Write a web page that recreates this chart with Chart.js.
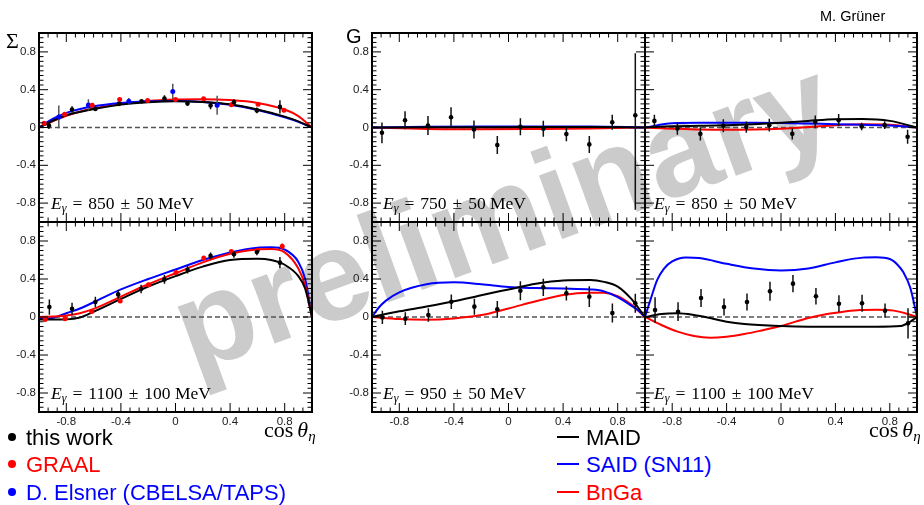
<!DOCTYPE html>
<html>
<head>
<meta charset="utf-8">
<script src="https://cdn.jsdelivr.net/npm/chart.js@4.4.0/dist/chart.umd.min.js"></script>
<style>
  body { margin: 0; background: #fff; }
  #page { position: relative; width: 924px; height: 505px; overflow: hidden; font-family: "Liberation Sans", Arial, sans-serif; }
  #wm { position: absolute; left: 502px; top: 214px; transform: translate(-50%, -50%) rotate(-20deg);
        font: bold 128px "Liberation Sans", Arial, sans-serif; color: #cbcbcb; white-space: nowrap; line-height: 1; }
  canvas { position: absolute; }
  .t { position: absolute; white-space: nowrap; }
  .lab { font-family: "Liberation Serif", serif; font-size: 17.5px; line-height: 20px; color: #000; }
  .lab i { font-style: italic; }
  .lab sub { font-size: 12px; vertical-align: -3px; line-height: 0; }
  .sp { display: inline-block; width: 6px; }
  .leg { font-size: 22px; line-height: 24px; }
  .bul { display: inline-block; width: 8px; height: 8px; border-radius: 50%; vertical-align: 4px; margin-left: 2px; margin-right: 10px; }
  .dash { display: inline-block; width: 22px; height: 2px; vertical-align: 7px; margin-right: 7px; }
  .ax { font-family: "Liberation Serif", serif; font-size: 22px; }
</style>
</head>
<body>
<div id="page">
  <div id="wm">preliminary</div>

  <canvas id="s850"></canvas>
  <canvas id="s1100"></canvas>
  <canvas id="g750"></canvas>
  <canvas id="g850"></canvas>
  <canvas id="g950"></canvas>
  <canvas id="g1100"></canvas>

  <div class="t" style="left:820px;top:8px;font-size:14.5px;">M. Grüner</div>
  <div class="t" style="left:6px;top:28px;font-family:'Liberation Serif',serif;font-size:22px;">Σ</div>
  <div class="t" style="left:346px;top:25px;font-size:20px;">G</div>

  <div class="t lab" style="left:51px;top:193px;"><i>E</i><sub><i>γ</i></sub><span class="sp"></span>=<span class="sp"></span>850<span class="sp"></span>±<span class="sp"></span>50 MeV</div>
  <div class="t lab" style="left:51px;top:383px;"><i>E</i><sub><i>γ</i></sub><span class="sp"></span>=<span class="sp"></span>1100<span class="sp"></span>±<span class="sp"></span>100 MeV</div>
  <div class="t lab" style="left:383px;top:193px;"><i>E</i><sub><i>γ</i></sub><span class="sp"></span>=<span class="sp"></span>750<span class="sp"></span>±<span class="sp"></span>50 MeV</div>
  <div class="t lab" style="left:654px;top:193px;"><i>E</i><sub><i>γ</i></sub><span class="sp"></span>=<span class="sp"></span>850<span class="sp"></span>±<span class="sp"></span>50 MeV</div>
  <div class="t lab" style="left:383px;top:383px;"><i>E</i><sub><i>γ</i></sub><span class="sp"></span>=<span class="sp"></span>950<span class="sp"></span>±<span class="sp"></span>50 MeV</div>
  <div class="t lab" style="left:654px;top:383px;"><i>E</i><sub><i>γ</i></sub><span class="sp"></span>=<span class="sp"></span>1100<span class="sp"></span>±<span class="sp"></span>100 MeV</div>

  <div class="t ax" style="left:264px;top:417px;">cos<span style="display:inline-block;width:4px"></span><i>θ</i><sub style="font-size:15px;vertical-align:-4px;line-height:0"><i>η</i></sub></div>
  <div class="t ax" style="left:869px;top:417px;">cos<span style="display:inline-block;width:4px"></span><i>θ</i><sub style="font-size:15px;vertical-align:-4px;line-height:0"><i>η</i></sub></div>

  <div class="t leg" style="left:6px;top:426px;color:#000;"><span class="bul" style="background:#000"></span>this work</div>
  <div class="t leg" style="left:6px;top:453px;color:#ff0000;"><span class="bul" style="background:#ff0000"></span>GRAAL</div>
  <div class="t leg" style="left:6px;top:481px;color:#0000ff;"><span class="bul" style="background:#0000ff"></span>D. Elsner (CBELSA/TAPS)</div>
  <div class="t leg" style="left:557px;top:426px;color:#000;"><span class="dash" style="background:#000"></span>MAID</div>
  <div class="t leg" style="left:557px;top:453px;color:#0000ff;"><span class="dash" style="background:#0000ff"></span>SAID (SN11)</div>
  <div class="t leg" style="left:557px;top:481px;color:#ff0000;"><span class="dash" style="background:#ff0000"></span>BnGa</div>
</div>

<script>
// axis ticks
const tickVals = [-0.8, -0.4, 0, 0.4, 0.8];
const tickText = ["-0.8", "-0.4", "0", "0.4", "0.8"];

// ---- Sigma, E = 850 MeV ----
const s850X = [-0.927, -0.758, -0.587, -0.415, -0.249, -0.081, 0.088, 0.257, 0.428, 0.596, 0.765];
const s850Y = [0.02, 0.19, 0.196, 0.25, 0.277, 0.307, 0.253, 0.233, 0.268, 0.181, 0.218];
const s850E = [0.035, 0.035, 0.02, 0.02, 0.02, 0.035, 0.02, 0.04, 0.03, 0.03, 0.07];
const s850GraalX = [-0.962, -0.812, -0.61, -0.409, -0.204, 0.0, 0.206, 0.409, 0.605, 0.795];
const s850GraalY = [0.045, 0.14, 0.235, 0.295, 0.286, 0.295, 0.305, 0.242, 0.245, 0.182];
const s850GraalE = [0.012, 0.012, 0.012, 0.012, 0.012, 0.012, 0.012, 0.012, 0.012, 0.015];
const s850ElsnerX = [-0.855, -0.638, -0.342, -0.02, 0.305];
const s850ElsnerY = [0.112, 0.239, 0.277, 0.382, 0.235];
const s850ElsnerE = [0.12, 0.06, 0.035, 0.08, 0.1];
const s850CurveX = [-1, -0.9, -0.8, -0.6, -0.4, -0.2, 0, 0.2, 0.4, 0.6, 0.8, 0.9, 1];
const s850Maid = [0, 0.07, 0.13, 0.195, 0.242, 0.268, 0.277, 0.27, 0.245, 0.19, 0.115, 0.065, 0];
const s850Said = [0, 0.09, 0.155, 0.225, 0.26, 0.277, 0.28, 0.27, 0.24, 0.185, 0.108, 0.06, 0];
const s850Bnga = [0, 0.065, 0.125, 0.2, 0.25, 0.28, 0.295, 0.3, 0.29, 0.26, 0.19, 0.12, 0];

// ---- Sigma, E = 1100 MeV ----
const s1100X = [-0.924, -0.758, -0.587, -0.42, -0.252, -0.081, 0.088, 0.257, 0.428, 0.596, 0.765];
const s1100Y = [0.105, 0.086, 0.157, 0.238, 0.295, 0.396, 0.498, 0.643, 0.66, 0.684, 0.572];
const s1100E = [0.08, 0.065, 0.055, 0.045, 0.045, 0.045, 0.04, 0.035, 0.035, 0.035, 0.06];
const s1100GraalX = [-0.955, -0.81, -0.614, -0.405, -0.198, 0.004, 0.207, 0.409, 0.601, 0.782];
const s1100GraalY = [-0.026, -0.019, 0.057, 0.169, 0.34, 0.468, 0.622, 0.69, 0.702, 0.744];
const s1100GraalE = [0.015, 0.012, 0.015, 0.02, 0.02, 0.02, 0.015, 0.015, 0.02, 0.03];
const s1100CurveX = [-1, -0.9, -0.8, -0.7, -0.6, -0.4, -0.2, 0, 0.2, 0.4, 0.6, 0.7, 0.8, 0.9, 0.95, 1];
const s1100Maid = [-0.025, -0.027, -0.025, -0.005, 0.055, 0.19, 0.32, 0.43, 0.53, 0.6, 0.612, 0.6, 0.55, 0.43, 0.3, 0];
const s1100Said = [-0.02, -0.01, 0.04, 0.09, 0.155, 0.29, 0.4, 0.5, 0.6, 0.68, 0.73, 0.735, 0.71, 0.58, 0.4, 0];
const s1100Bnga = [0.0, 0.005, 0.015, 0.04, 0.085, 0.215, 0.345, 0.46, 0.575, 0.665, 0.71, 0.715, 0.68, 0.51, 0.33, 0];

// ---- G, E = 750 MeV ----
const g750X = [-0.927, -0.758, -0.59, -0.421, -0.253, -0.082, 0.087, 0.255, 0.424, 0.592, 0.76, 0.929];
const g750Y = [-0.056, 0.077, 0.021, 0.109, -0.021, -0.186, 0.007, -0.014, -0.07, -0.179, 0.056, 0.13];
const g750ErrDown = [0.11, 0.095, 0.1, 0.105, 0.095, 0.095, 0.09, 0.085, 0.075, 0.09, 0.08, 1.0];
const g750ErrUp = [0.11, 0.095, 0.1, 0.105, 0.095, 0.095, 0.09, 0.085, 0.075, 0.09, 0.08, 0.656];
const g750CurveX = [-1, -0.6, -0.2, 0.2, 0.6, 1];
const g750Maid = [0, 0.002, 0.003, 0.004, 0.004, 0];
const g750Said = [0, 0.008, 0.01, 0.01, 0.01, 0];
const g750Bnga = [0, -0.015, -0.018, -0.015, -0.01, 0];

// ---- G, E = 850 MeV ----
const g850X = [-0.931, -0.762, -0.593, -0.424, -0.255, -0.086, 0.083, 0.252, 0.424, 0.593, 0.762, 0.931];
const g850Y = [0.07, -0.011, -0.067, 0.018, 0.004, 0.025, -0.067, 0.06, 0.077, 0.011, 0.025, -0.098];
const g850E = [0.065, 0.065, 0.07, 0.068, 0.06, 0.067, 0.06, 0.067, 0.065, 0.04, 0.04, 0.075];
const g850CurveX = [-1, -0.8, -0.6, -0.4, -0.2, 0, 0.2, 0.4, 0.6, 0.8, 1];
const g850Maid = [0, 0.012, 0.018, 0.025, 0.035, 0.05, 0.07, 0.088, 0.09, 0.07, 0];
const g850Said = [0, 0.045, 0.05, 0.05, 0.05, 0.048, 0.042, 0.035, 0.03, 0.02, 0];
const g850Bnga = [0, -0.012, -0.022, -0.025, -0.022, -0.012, 0.005, 0.025, 0.035, 0.03, 0];

// ---- G, E = 950 MeV ----
const g950X = [-0.924, -0.756, -0.587, -0.419, -0.25, -0.082, 0.087, 0.255, 0.424, 0.592, 0.761, 0.929];
const g950Y = [-0.004, -0.018, 0.021, 0.161, 0.109, 0.081, 0.277, 0.312, 0.249, 0.214, 0.042, 0.144];
const g950E = [0.07, 0.067, 0.07, 0.077, 0.084, 0.088, 0.1, 0.09, 0.075, 0.11, 0.1, 0.1];
const g950MaidX = [-1, -0.8, -0.6, -0.4, -0.2, 0, 0.2, 0.4, 0.6, 0.7, 0.8, 0.9, 1];
const g950Maid = [0, 0.06, 0.11, 0.165, 0.23, 0.29, 0.35, 0.385, 0.39, 0.37, 0.32, 0.19, 0];
const g950SaidX = [-1, -0.95, -0.9, -0.8, -0.6, -0.4, -0.2, 0, 0.2, 0.4, 0.6, 0.7, 0.8, 0.9, 0.95, 1];
const g950Said = [0, 0.1, 0.17, 0.26, 0.345, 0.365, 0.345, 0.315, 0.305, 0.3, 0.29, 0.27, 0.21, 0.12, 0.07, 0];
const g950BngaX = [-1, -0.8, -0.6, -0.4, -0.2, 0, 0.2, 0.4, 0.6, 0.7, 0.8, 0.9, 1];
const g950Bnga = [0, -0.022, -0.028, -0.015, 0.02, 0.09, 0.165, 0.232, 0.256, 0.255, 0.22, 0.13, 0];

// ---- G, E = 1100 MeV ----
const g1100X = [-0.926, -0.757, -0.588, -0.419, -0.25, -0.081, 0.088, 0.257, 0.426, 0.596, 0.765, 0.934];
const g1100Y = [0.074, 0.056, 0.2, 0.105, 0.158, 0.27, 0.351, 0.218, 0.14, 0.144, 0.067, -0.067];
const g1100E = [0.135, 0.098, 0.095, 0.09, 0.09, 0.1, 0.09, 0.086, 0.088, 0.09, 0.075, 0.158];
const g1100MaidX = [-1, -0.88, -0.76, -0.64, -0.5, -0.4, -0.27, 0, 0.2, 0.5, 0.7, 0.88, 0.95, 1];
const g1100Maid = [0, 0.032, 0.039, 0.021, -0.018, -0.049, -0.074, -0.096, -0.102, -0.102, -0.102, -0.095, -0.05, 0];
const g1100SaidX = [-1, -0.96, -0.91, -0.86, -0.8, -0.7, -0.6, -0.4, -0.2, 0, 0.2, 0.4, 0.6, 0.7, 0.8, 0.86, 0.9, 0.95, 1];
const g1100Said = [0, 0.18, 0.39, 0.51, 0.585, 0.627, 0.62, 0.56, 0.51, 0.49, 0.51, 0.575, 0.625, 0.628, 0.61, 0.545, 0.47, 0.31, 0];
const g1100BngaX = [-1, -0.88, -0.76, -0.64, -0.52, -0.4, -0.27, -0.15, 0, 0.2, 0.34, 0.46, 0.58, 0.7, 0.83, 0.93, 1];
const g1100Bnga = [0, -0.084, -0.154, -0.2, -0.218, -0.207, -0.179, -0.144, -0.095, -0.01, 0.032, 0.056, 0.074, 0.077, 0.067, 0.032, 0];

const BLACK = "#000000", BLUE = "#0000ff", RED = "#ff0000";

function xy(xs, ys) {
  return xs.map((x, i) => ({ x: x, y: ys[i] }));
}

// error bars as one broken line: low, high, gap
function errBars(xs, ys, down, up) {
  const out = [];
  for (let i = 0; i < xs.length; i++) {
    out.push({ x: xs[i], y: ys[i] - down[i] });
    out.push({ x: xs[i], y: ys[i] + up[i] });
    out.push({ x: xs[i], y: null });
  }
  return out;
}

function points(xs, ys, down, up, color, barColor, r) {
  return [
    { type: "scatter", data: xy(xs, ys), pointRadius: r, pointBackgroundColor: color,
      pointBorderWidth: 0, order: 0 },
    { type: "line", data: errBars(xs, ys, down, up), borderColor: barColor, borderWidth: 1.5,
      pointRadius: 0, spanGaps: false, order: 1 },
  ];
}

function curve(xs, ys, color, order) {
  return { type: "line", data: xy(xs, ys), borderColor: color, borderWidth: 2, pointRadius: 0,
           cubicInterpolationMode: "monotone", order: order };
}

function zeroLine() {
  return { type: "line", data: [{ x: -1, y: 0 }, { x: 1, y: 0 }], borderColor: "#555",
           borderWidth: 1.5, borderDash: [5, 3], pointRadius: 0, order: 10 };
}

// frame, inside ticks and tick labels, ROOT style
const frameTicks = {
  id: "frameTicks",
  afterDraw(chart, args, opts) {
    const { ctx, chartArea: a } = chart;
    const sx = chart.scales.x, sy = chart.scales.y;
    ctx.save();
    ctx.strokeStyle = "#000";
    ctx.lineWidth = 1;
    ctx.beginPath();
    for (let k = -15; k <= 15; k++) {
      const px = sx.getPixelForValue(k / 15);
      const len = k % 6 === 0 ? 9 : 4.5;
      ctx.moveTo(px, a.bottom); ctx.lineTo(px, a.bottom - len);
      ctx.moveTo(px, a.top); ctx.lineTo(px, a.top + len);
    }
    for (let k = -20; k <= 20; k++) {
      const py = sy.getPixelForValue(k / 20);
      const len = k % 8 === 0 ? 9 : 4.5;
      ctx.moveTo(a.left, py); ctx.lineTo(a.left + len, py);
      ctx.moveTo(a.right, py); ctx.lineTo(a.right - len, py);
    }
    ctx.stroke();
    ctx.lineWidth = 2;
    ctx.strokeRect(a.left, a.top, a.right - a.left, a.bottom - a.top);

    ctx.fillStyle = "#222";
    ctx.font = "11.5px 'Liberation Sans', Arial, sans-serif";
    if (opts.showY) {
      ctx.textAlign = "right"; ctx.textBaseline = "middle";
      tickVals.forEach((v, i) => ctx.fillText(tickText[i], a.left - 3, sy.getPixelForValue(v)));
    }
    if (opts.showX) {
      ctx.textAlign = "center"; ctx.textBaseline = "top";
      tickVals.forEach((v, i) => ctx.fillText(tickText[i], sx.getPixelForValue(v), a.bottom + 4));
    }
    ctx.restore();
  },
};

function panel(id, box, showY, showX, datasets) {
  const ml = showY ? 40 : 5, mb = showX ? 26 : 5, mt = 5, mr = 5;
  const cv = document.getElementById(id);
  cv.width = box[2] - box[0] + ml + mr;
  cv.height = box[3] - box[1] + mt + mb;
  cv.style.left = (box[0] - ml) + "px";
  cv.style.top = (box[1] - mt) + "px";
  new Chart(cv, {
    data: { datasets: datasets },
    plugins: [frameTicks],
    options: {
      responsive: false,
      animation: false,
      events: [],
      layout: { autoPadding: false, padding: { left: ml, right: mr, top: mt, bottom: mb } },
      plugins: { legend: { display: false }, tooltip: { enabled: false },
                 frameTicks: { showX: showX, showY: showY } },
      scales: {
        x: { type: "linear", min: -1, max: 1, display: false },
        y: { type: "linear", min: -1, max: 1, display: false },
      },
    },
  });
}

panel("s850", [39, 33, 312, 222], true, false, [
  ...points(s850X, s850Y, s850E, s850E, BLACK, "#111", 2.3),
  ...points(s850GraalX, s850GraalY, s850GraalE, s850GraalE, RED, RED, 2.5),
  ...points(s850ElsnerX, s850ElsnerY, s850ElsnerE, s850ElsnerE, BLUE, "#555", 2.5),
  curve(s850CurveX, s850Maid, BLACK, 2),
  curve(s850CurveX, s850Said, BLUE, 3),
  curve(s850CurveX, s850Bnga, RED, 4),
  zeroLine(),
]);

panel("s1100", [39, 222, 312, 412], true, true, [
  ...points(s1100X, s1100Y, s1100E, s1100E, BLACK, "#111", 2.3),
  ...points(s1100GraalX, s1100GraalY, s1100GraalE, s1100GraalE, RED, RED, 2.5),
  curve(s1100CurveX, s1100Maid, BLACK, 2),
  curve(s1100CurveX, s1100Bnga, RED, 3),
  curve(s1100CurveX, s1100Said, BLUE, 4),
  zeroLine(),
]);

panel("g750", [372, 33, 645, 222], true, false, [
  ...points(g750X, g750Y, g750ErrDown, g750ErrUp, BLACK, "#111", 2.3),
  curve(g750CurveX, g750Maid, BLACK, 2),
  curve(g750CurveX, g750Said, BLUE, 3),
  curve(g750CurveX, g750Bnga, RED, 4),
  zeroLine(),
]);

panel("g850", [645, 33, 917, 222], false, false, [
  ...points(g850X, g850Y, g850E, g850E, BLACK, "#111", 2.3),
  curve(g850CurveX, g850Maid, BLACK, 2),
  curve(g850CurveX, g850Said, BLUE, 3),
  curve(g850CurveX, g850Bnga, RED, 4),
  zeroLine(),
]);

panel("g950", [372, 222, 645, 412], true, true, [
  ...points(g950X, g950Y, g950E, g950E, BLACK, "#111", 2.3),
  curve(g950MaidX, g950Maid, BLACK, 2),
  curve(g950SaidX, g950Said, BLUE, 3),
  curve(g950BngaX, g950Bnga, RED, 4),
  zeroLine(),
]);

panel("g1100", [645, 222, 917, 412], false, true, [
  ...points(g1100X, g1100Y, g1100E, g1100E, BLACK, "#111", 2.3),
  curve(g1100MaidX, g1100Maid, BLACK, 2),
  curve(g1100SaidX, g1100Said, BLUE, 3),
  curve(g1100BngaX, g1100Bnga, RED, 4),
  zeroLine(),
]);
</script>
</body>
</html>
